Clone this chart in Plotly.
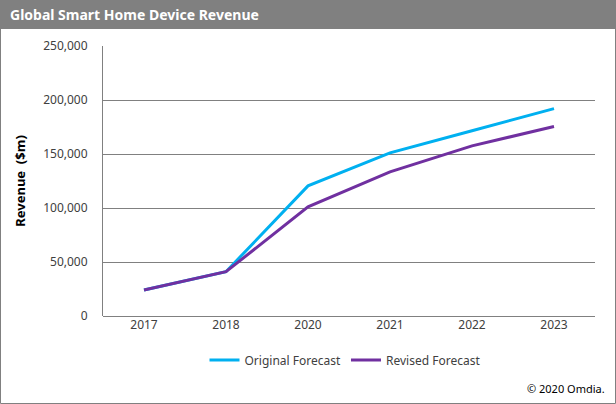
import plotly.graph_objects as go

years = ["2017", "2018", "2020", "2021", "2022", "2023"]
original = [24000, 41000, 120500, 151000, 171500, 192000]
revised = [24000, 41000, 101000, 133500, 157500, 175500]
y_ticks = [0, 50000, 100000, 150000, 200000, 250000]

W, H = 616, 404
L, R, T, B = 103, 21, 46, 88
PW, PH = W - L - R, H - T - B

def px(x):
    return (x - L) / PW

def py(y):
    return (H - B - y) / PH

FONT = "Noto Sans"
fig = go.Figure()
fig.add_trace(go.Scatter(x=years, y=original, mode="lines", name="Original Forecast",
                         line=dict(color="#00B0F0", width=3)))
fig.add_trace(go.Scatter(x=years, y=revised, mode="lines", name="Revised Forecast",
                         line=dict(color="#7030A0", width=3)))

fig.update_layout(
    width=W, height=H,
    margin=dict(l=L, r=R, t=T, b=B),
    paper_bgcolor="white", plot_bgcolor="white",
    font=dict(family=FONT, size=12, color="#404040"),
    showlegend=True,
    legend=dict(orientation="h", x=px(345), xanchor="center", y=py(360), yanchor="middle",
                font=dict(size=12, color="#404040"), itemwidth=30, tracegroupgap=0),
    xaxis=dict(type="category", showgrid=False, showline=False, ticks="",
               tickfont=dict(size=12, color="#404040"), range=[-0.5, 5.5], fixedrange=True),
    yaxis=dict(range=[0, 250000], tickvals=y_ticks, tickformat=",d", showgrid=True,
               gridcolor="#808080", gridwidth=1, showline=True, linecolor="#808080",
               linewidth=1, zeroline=True, zerolinecolor="#808080", zerolinewidth=1,
               ticks="", ticklabelstandoff=12,
               tickfont=dict(size=12, color="#404040"),
               title=dict(text="<b>Revenue  ($m)</b>", font=dict(size=13, color="#000000", family=FONT),
                          standoff=14)),
    shapes=[
        dict(type="rect", xref="paper", yref="paper", x0=px(0.5), x1=px(W - 0.5),
             y0=py(H - 0.5), y1=py(0.5), line=dict(color="#808080", width=1), layer="below"),
        dict(type="rect", xref="paper", yref="paper", x0=px(0), x1=px(W),
             y0=py(29), y1=py(0), fillcolor="#808080", line=dict(width=0), layer="below"),
    ],
    annotations=[
        dict(text="<b>Global Smart Home Device Revenue</b>", xref="paper", yref="paper",
             x=px(8), y=py(15), xanchor="left", yanchor="middle", showarrow=False,
             font=dict(size=14, color="white", family=FONT)),
        dict(text="© 2020 Omdia.", xref="paper", yref="paper",
             x=px(607), y=py(388), xanchor="right", yanchor="middle", showarrow=False,
             font=dict(size=11, color="#000000", family=FONT)),
    ],
)
fig.write_html("out.html")
